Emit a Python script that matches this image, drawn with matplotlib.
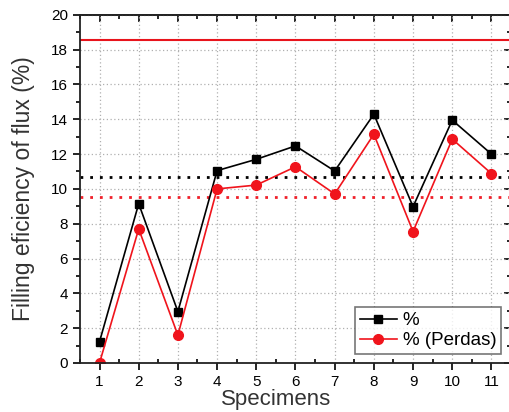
import matplotlib
import numpy as np
from matplotlib import pyplot as plt
from matplotlib.ticker import MultipleLocator, NullFormatter

matplotlib.use('Agg')

plt.rcParams['font.family'] = ['Liberation Sans', 'DejaVu Sans']

# data
specimens = [1, 2, 3, 4, 5, 6, 7, 8, 9, 10, 11]
pct = [1.22, 9.15, 2.95, 11.05, 11.7, 12.47, 11.03, 14.29, 8.98, 13.95, 12.0]
pct_perdas = [0.0, 7.7, 1.6, 10.0, 10.22, 11.27, 9.71, 13.14, 7.55, 12.86, 10.88]
limit_value = 18.56
mean_pct = 10.71
mean_perdas = 9.52

fig = plt.figure(figsize=(5.09, 4.12), dpi=100)
ax = fig.add_axes([0.157, 0.119, 0.847, 0.845])

# grid
ax.grid(True, which='major', color='#b0b0b0', linestyle=(0, (1, 2)), linewidth=0.9)
ax.set_axisbelow(True)

# reference lines
ax.axhline(limit_value, color='#e8141c', linewidth=1.5)
ax.axhline(mean_pct, color='black', linestyle=(0, (1, 2.5)), linewidth=2.0)
ax.axhline(mean_perdas, color='#f0202a', linestyle=(0, (1, 2.5)), linewidth=2.0)

# series
ax.plot(specimens, pct, color='black', marker='s', markersize=6, linewidth=1.2, label='%')
ax.plot(specimens, pct_perdas, color='#f0141c', marker='o', markersize=7, linewidth=1.2,
        label='% (Perdas)')

ax.set_xlim(0.5, 11.5)
ax.set_ylim(0, 20)
ax.set_xticks(specimens)
ax.yaxis.set_major_locator(MultipleLocator(2))
ax.yaxis.set_minor_locator(MultipleLocator(1))
ax.xaxis.set_minor_locator(MultipleLocator(0.5))

ax.tick_params(axis='both', which='both', direction='out', labelsize=11, width=1.2)
ax.tick_params(which='major', length=5)
ax.tick_params(which='minor', length=3)
ax.tick_params(axis='x', which='minor', direction='in')

# top and right ticks point inward
top = ax.secondary_xaxis('top')
top.set_xticks(specimens)
top.xaxis.set_minor_locator(MultipleLocator(0.5))
top.xaxis.set_major_formatter(NullFormatter())
top.tick_params(which='both', direction='in', width=1.2)
top.tick_params(which='major', length=5)
top.tick_params(which='minor', length=3)
right = ax.secondary_yaxis('right')
right.yaxis.set_major_locator(MultipleLocator(2))
right.yaxis.set_minor_locator(MultipleLocator(1))
right.yaxis.set_major_formatter(NullFormatter())
right.tick_params(which='both', direction='in', width=1.2)
right.tick_params(which='major', length=5)
right.tick_params(which='minor', length=3)
for sec in (top, right):
    for spine in sec.spines.values():
        spine.set_linewidth(1.3)
        spine.set_color('#222222')

for spine in ax.spines.values():
    spine.set_linewidth(1.3)
    spine.set_color('#222222')

ax.set_xlabel('Specimens', fontsize=16, color='#333333')
ax.xaxis.set_label_coords(0.455, -0.075, transform=ax.transAxes)
ax.set_ylabel('Filling eficiency of flux (%)', fontsize=16.5, color='#333333')
ax.yaxis.set_label_coords(-0.104, 0.5, transform=ax.transAxes)

leg = ax.legend(loc='lower right', bbox_to_anchor=(0.977, 0.026), fontsize=13.5,
                frameon=True, fancybox=False, edgecolor='#555555', handlelength=2.0,
                handletextpad=0.3, borderpad=0.25, labelspacing=0.15, borderaxespad=0)
leg.get_frame().set_linewidth(1.2)

fig.savefig('out.png', dpi=100)
